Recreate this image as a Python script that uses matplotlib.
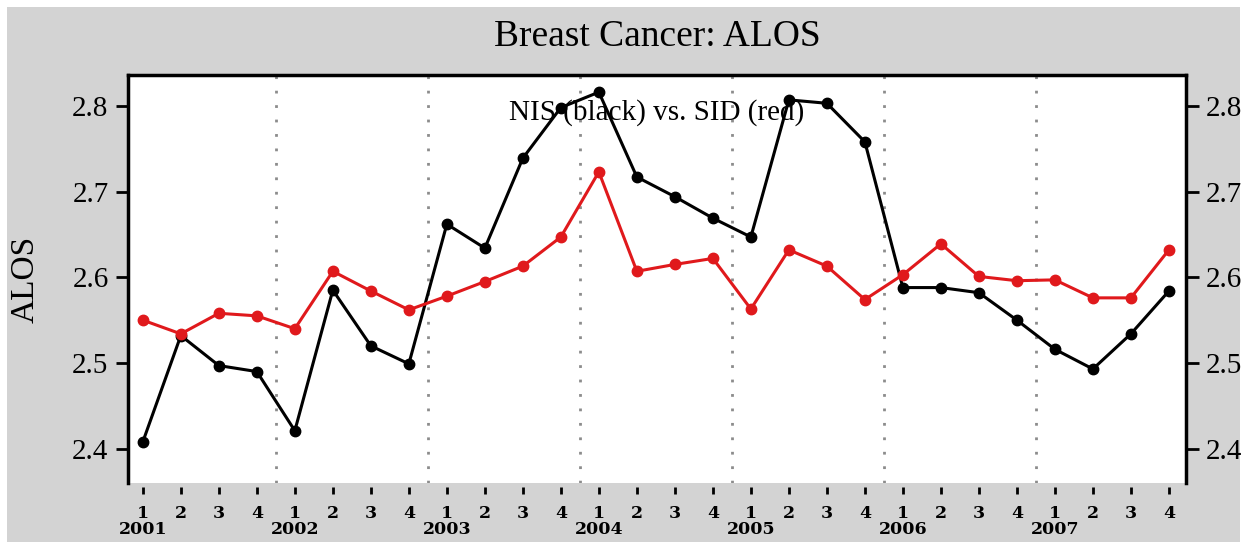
import numpy as np
import matplotlib
matplotlib.use("Agg")
import matplotlib.pyplot as plt
from matplotlib.patches import Rectangle

years = ["2001", "2002", "2003", "2004", "2005", "2006", "2007"]
quarters = ["1", "2", "3", "4"]

# NIS (black)
nis = [2.408, 2.532, 2.497, 2.490,
       2.421, 2.585, 2.520, 2.499,
       2.662, 2.634, 2.739, 2.798,
       2.816, 2.717, 2.694, 2.669,
       2.647, 2.807, 2.803, 2.758,
       2.588, 2.588, 2.582, 2.550,
       2.516, 2.493, 2.534, 2.584]

# SID (red)
sid = [2.550, 2.534, 2.558, 2.555,
       2.540, 2.607, 2.584, 2.562,
       2.578, 2.595, 2.613, 2.647,
       2.723, 2.607, 2.615, 2.622,
       2.563, 2.632, 2.613, 2.574,
       2.603, 2.639, 2.601, 2.596,
       2.597, 2.576, 2.576, 2.632]

yticks = [2.4, 2.5, 2.6, 2.7, 2.8]

serif = "Liberation Serif"
W, H = 1249, 542
fig = plt.figure(figsize=(W / 100, H / 100), dpi=100, facecolor="white")

# gray panel behind everything
fig.patches.append(Rectangle((7 / W, 0), (1240 - 7) / W, (H - 7) / H,
                             transform=fig.transFigure, facecolor="#d3d3d3",
                             edgecolor="none", zorder=-10))

ax = fig.add_axes([128 / W, 1 - 483 / H, (1186 - 128) / W, (483 - 75) / H])
ax.set_facecolor("white")

x = np.arange(len(nis))
ax.plot(x, nis, color="black", lw=2.2, marker="o", ms=7.5, zorder=3)
ax.plot(x, sid, color="#e0191c", lw=2.2, marker="o", ms=7.5, zorder=4)

# dotted separators between years
for k in range(1, len(years)):
    ax.axvline(4 * k - 0.5, color="#8c8c8c", lw=2.0, ls=(0, (1, 4.2)), zorder=1)

ax.set_xlim(-0.39, len(nis) - 1 + 0.45)
ax.set_ylim(2.36, 2.836)

for s in ["left", "top", "right"]:
    ax.spines[s].set_linewidth(2.5)
    ax.spines[s].set_color("black")
ax.spines["bottom"].set_visible(False)
ax.spines["bottom"].set_position(("outward", 3))

ax.set_xticks(x)
ax.set_xticklabels(quarters * len(years), fontfamily="DejaVu Serif",
                   fontweight="bold", fontsize=12.5)
ax.tick_params(axis="x", direction="out", length=5, width=2.0, pad=8)

ax.set_yticks(yticks)
ax.set_yticklabels([f"{v:.1f}" for v in yticks], fontfamily=serif, fontsize=21)
ax.tick_params(axis="y", direction="out", length=9, width=2.0, pad=5,
               left=True, right=True, labelleft=True, labelright=True)

for i, yr in enumerate(years):
    ax.text(4 * i, -0.115, yr, transform=ax.get_xaxis_transform(),
            ha="center", va="center", fontfamily="DejaVu Serif",
            fontweight="bold", fontsize=12.5)

ax.text(0.5, 0.907, "NIS (black) vs. SID (red)", transform=ax.transAxes,
        ha="center", va="center", fontfamily=serif, fontsize=21, zorder=5)

fig.text(657 / W, 1 - 37 / H, "Breast Cancer: ALOS", ha="center", va="center",
         fontfamily=serif, fontsize=27)
fig.text(25 / W, 1 - 279 / H, "ALOS", rotation=90, ha="center", va="center",
         fontfamily=serif, fontsize=24)

fig.savefig("out.png", dpi=100, facecolor="white")
